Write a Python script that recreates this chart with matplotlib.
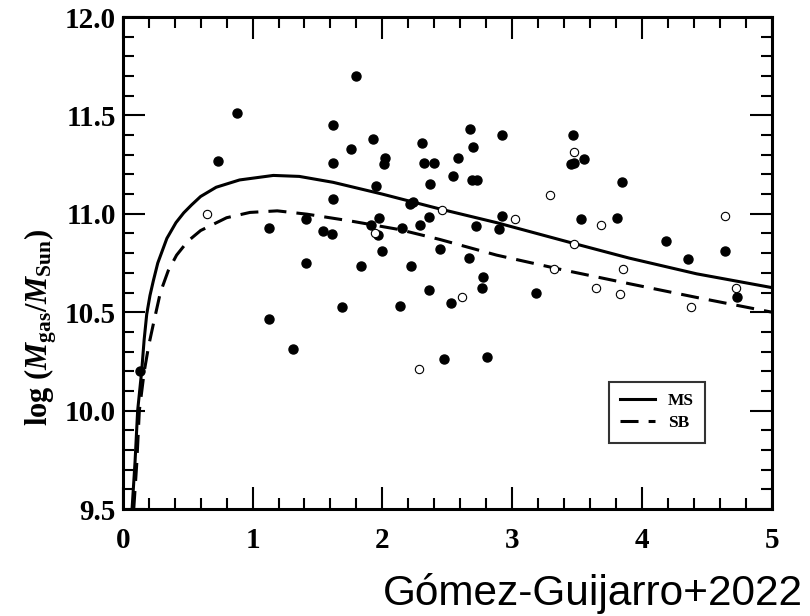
import matplotlib
matplotlib.use('Agg')
import matplotlib.pyplot as plt
from matplotlib.ticker import MultipleLocator

# curves
ms_x = [0.072, 0.095, 0.115, 0.146, 0.165, 0.185, 0.21, 0.236, 0.27, 0.34, 0.41, 0.47, 0.53,
        0.6, 0.72, 0.9, 1.16, 1.36, 1.62, 2.0, 2.44, 2.88, 3.47, 3.9, 4.42, 5.0]
ms_y = [9.5, 9.74, 10.0, 10.2, 10.36, 10.49, 10.585, 10.66, 10.75, 10.875, 10.955, 11.005,
        11.045, 11.088, 11.135, 11.172, 11.195, 11.19, 11.16, 11.10, 11.025, 10.955, 10.85,
        10.775, 10.695, 10.625]
sb_x = [0.085, 0.108, 0.128, 0.166, 0.2, 0.236, 0.29, 0.35, 0.415, 0.5, 0.6, 0.8, 0.98,
        1.19, 1.42, 1.75, 2.13, 2.44, 2.88, 3.39, 3.9, 4.42, 5.0]
sb_y = [9.5, 9.73, 10.0, 10.2, 10.33, 10.44, 10.6, 10.71, 10.79, 10.86, 10.915, 10.98, 11.007,
        11.015, 10.998, 10.964, 10.92, 10.87, 10.79, 10.715, 10.645, 10.575, 10.5]

# filled points
fill_x = [0.735, 0.882, 1.795, 1.62, 1.928, 1.762, 1.62, 2.023, 2.01, 2.308, 2.318, 2.40,
          1.954, 2.364, 1.62, 2.236, 2.215, 1.123, 1.415, 1.974, 2.359, 1.543, 1.615, 1.915,
          1.966, 2.154, 2.287, 2.0, 2.44, 1.415, 1.833, 2.223, 2.359, 1.689, 2.133,
          2.677, 2.697, 2.582, 2.918, 2.543, 2.692, 2.728, 2.923, 2.723, 2.895, 2.664, 2.774,
          2.767, 2.531, 3.185, 3.466, 3.454, 3.479, 3.554, 3.843, 3.533, 3.805, 4.187, 4.356,
          4.641, 4.728, 0.133, 1.123, 1.315, 2.472, 2.805]
fill_y = [11.267, 11.514, 11.70, 11.453, 11.379, 11.33, 11.257, 11.282, 11.253, 11.359, 11.259,
          11.259, 11.143, 11.151, 11.075, 11.058, 11.05, 10.929, 10.976, 10.981, 10.985, 10.913,
          10.896, 10.942, 10.893, 10.93, 10.944, 10.811, 10.82, 10.748, 10.733, 10.736, 10.611,
          10.526, 10.534, 11.43, 11.337, 11.282, 11.398, 11.19, 11.172, 11.172, 10.99, 10.937,
          10.922, 10.777, 10.68, 10.624, 10.547, 10.599, 11.40, 11.253, 11.257, 11.276, 11.163,
          10.974, 10.981, 10.862, 10.772, 10.811, 10.578, 10.203, 10.466, 10.315, 10.264, 10.274]

# open points
open_x = [0.651, 1.941, 2.462, 3.025, 3.292, 3.472, 3.687, 3.472, 3.318, 3.853, 2.612, 3.646,
          3.828, 4.638, 4.72, 4.379, 2.279]
open_y = [11.0, 10.90, 11.02, 10.973, 11.093, 11.315, 10.945, 10.847, 10.718, 10.718, 10.577,
          10.622, 10.595, 10.987, 10.622, 10.524, 10.211]

xticks = [0, 1, 2, 3, 4, 5]
yticks = [9.5, 10.0, 10.5, 11.0, 11.5, 12.0]

plt.rcParams['mathtext.fontset'] = 'custom'
plt.rcParams['mathtext.rm'] = 'Liberation Serif:bold'
plt.rcParams['mathtext.it'] = 'Liberation Serif:italic:bold'
plt.rcParams['mathtext.bf'] = 'Liberation Serif:bold'

fig = plt.figure(figsize=(8.1, 6.16), dpi=100)
ax = fig.add_axes([0.1515, 0.1737, 0.8015, 0.7987])

ax.plot(ms_x, ms_y, color='black', lw=2.2, label='MS', zorder=2)
ax.plot(sb_x, sb_y, color='black', lw=2.2, linestyle=(0, (5.9, 3.3)), label='SB', zorder=2)
ax.plot(fill_x, fill_y, 'o', color='black', ms=6.5, zorder=3)
ax.plot(open_x, open_y, 'o', mfc='white', mec='black', mew=0.8, ms=6.0, zorder=4)

ax.set_xlim(0, 5)
ax.set_ylim(9.5, 12.0)
ax.xaxis.set_minor_locator(MultipleLocator(0.2))
ax.yaxis.set_minor_locator(MultipleLocator(0.1))
ax.set_xticks(xticks)
ax.set_xticklabels([str(t) for t in xticks])
ax.set_yticks(yticks)
ax.set_yticklabels([f'{t:.1f}' for t in yticks])

ax.tick_params(which='both', direction='in', top=True, right=True, width=1.5)
ax.tick_params(which='major', length=16)
ax.tick_params(which='minor', length=8)
ax.tick_params(axis='x', pad=13)
ax.tick_params(axis='y', pad=5)
for lab in ax.get_xticklabels() + ax.get_yticklabels():
    lab.set_fontfamily('Liberation Serif')
    lab.set_fontweight('bold')
    lab.set_fontsize(21)
for s in ax.spines.values():
    s.set_linewidth(2.2)

ax.text(-0.126, 0.37, r'log ($M_{\rm gas}/M_{\rm Sun}$)', transform=ax.transAxes,
        rotation=90, ha='center', va='center', fontsize=22,
        fontfamily='Liberation Serif', fontweight='bold')

leg = ax.legend(loc='upper left', bbox_to_anchor=(0.749, 0.259), borderaxespad=0,
                prop={'family': 'Liberation Serif', 'weight': 'bold', 'size': 12.5},
                frameon=True, fancybox=False, handlelength=2.0, handletextpad=0.75,
                borderpad=0.65, labelspacing=0.35)
leg.get_frame().set_edgecolor('black')
leg.get_frame().set_linewidth(1.5)

fig.text(0.991, 0.018, 'Gómez-Guijarro+2022', ha='right', va='baseline',
         fontsize=30.5, fontfamily='Liberation Sans')

fig.savefig('out.png', dpi=100)
